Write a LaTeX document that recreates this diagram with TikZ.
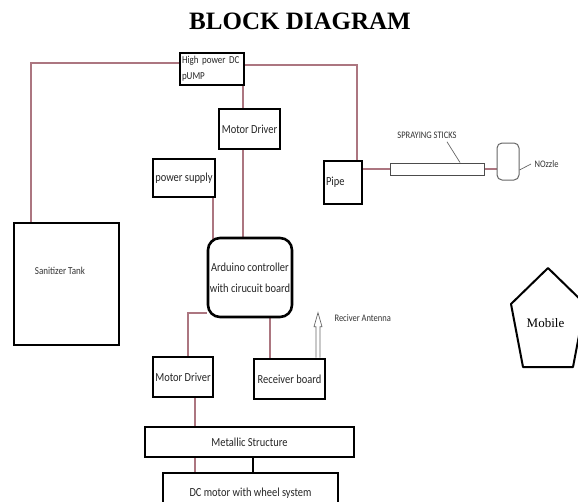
\documentclass[tikz,border=0pt]{standalone}
\usepackage{fontspec}
\setmainfont[FakeStretch=0.85]{Carlito}
\newfontfamily\timesfont{Liberation Serif}
\usepackage{xcolor}
\usepackage{tikz}
\usetikzlibrary{backgrounds}
\usetikzlibrary{positioning}
\definecolor{wirered}{RGB}{172,118,128}
\tikzset{blk/.style ={draw,line width=2.6pt,fill=white,inner sep=1pt,font=\fontsize{12.3}{14}\selectfont,text=black!85}}
\tikzset{wire/.style ={draw=wirered,line width=1.2pt}}
\tikzset{note/.style ={font=\fontsize{10}{12}\selectfont,text=black!80}}
\tikzset{lead/.style ={draw=black!60,line width=0.7pt}}

\begin{document}
\begin{tikzpicture}[x=1pt,y=-1pt]
\useasboundingbox (0,0) rectangle (578,501);
\node[font=\timesfont\bfseries\fontsize{25}{28}\selectfont] (title) at (300,21.5) {BLOCK DIAGRAM};
\node[blk,minimum width=64,minimum height=32,text width=60,align=left,inner sep=2pt,font=\fontsize{10.6}{16}\selectfont] (pump) at (212,69) {High power DC\\pUMP};
\node[blk,minimum width=61,minimum height=40] (md1) at (249.5,129) {Motor Driver};
\node[blk,minimum width=62,minimum height=38] (ps) at (184,178) {power supply};
\node[blk,minimum width=105,minimum height=122,label={[font=\fontsize{10.6}{12}\selectfont,text=black!80,xshift=-6.5,yshift=13]center:Sanitizer Tank}] (tank) at (66.5,284) {};
\node[blk,rounded corners=12,minimum width=84,minimum height=79,align=center,font=\fontsize{12.3}{21}\selectfont] (ard) at (250,277.5) {Arduino controller\\with cirucuit board};
\node[blk,minimum width=60,minimum height=40] (md2) at (183,377) {Motor Driver};
\node[blk,minimum width=71,minimum height=40] (rx) at (289.5,379) {Receiver board};
\node[blk,minimum width=209,minimum height=30] (ms) at (249.5,442) {Metallic Structure};
\node[blk,minimum width=175,minimum height=40] (dcm) at (250.5,493) {DC motor with wheel system};
\node[blk,minimum width=38,minimum height=43,text width=34,align=left,inner sep=2pt] (pipe) at (343,182.5) {Pipe};
\node[draw=black!70,line width=1pt,fill=white,minimum width=94,minimum height=12,inner sep=0pt] (stick) at (437,169) {};
\node[draw=black!60,line width=1pt,fill=white,rounded corners=5,minimum width=22,minimum height=37,inner sep=0pt] (noz) at (508,161.5) {};
\node[note] (spl) at (427,135) {SPRAYING STICKS};
\node[note,anchor=west] (nozl) at (531,164) {NOzzle};
\node[note,anchor=west] (antl) at (331,318) {Reciver Antenna};
\node[font=\timesfont\fontsize{13}{15}\selectfont] (mob) at (545.5,323) {Mobile};
\draw[line width=2pt,line join=round] (548,268) -- (511,304) -- (523,367) -- (573,367) -- (585,304) -- cycle;
\begin{scope}[on background layer]
\draw[wire] ([xshift=-35.5]tank.north) |- ([yshift=6]pump.west);
\draw[wire] ([yshift=4]pump.east) -| ([xshift=14]pipe.north);
\draw[wire] ([xshift=31]pump.south) -- ([xshift=-6.5]md1.north);
\draw[wire] ([xshift=-6.5]md1.south) -- ([xshift=-7]ard.center);
\draw[wire] ([xshift=29]ps.south) -- ([xshift=-37]ard.center);
\draw[wire] ([yshift=-35.5]ard.west) -| ([xshift=5]md2.north);
\draw[wire] ([xshift=20]ard.south) -- ([xshift=20]ard.south |- rx.north);
\draw[wire] ([xshift=12]md2.south) -- ([xshift=-55.5]dcm.north);
\draw[wire] ([yshift=13.5]pipe.east) -- (stick.west);
\draw[wire] (stick.east) -- (stick.east -| noz.west);
\draw[line width=1.5pt] ([xshift=3.5]ms.south) -- ([xshift=2.5]dcm.north);
\end{scope}
\draw[lead] ([xshift=20]spl.south) -- ([xshift=23]stick.north);
\draw[lead] ([yshift=-8.5]noz.east) -- (nozl.west);
\draw[lead,line join=miter] ([xshift=26.5]rx.north) -- ++(0,-31) -- ++(-2,0) -- ++(4,-14) -- ++(4,14) -- ++(-2,0) -- ++(0,31);
\end{tikzpicture}
\end{document}
